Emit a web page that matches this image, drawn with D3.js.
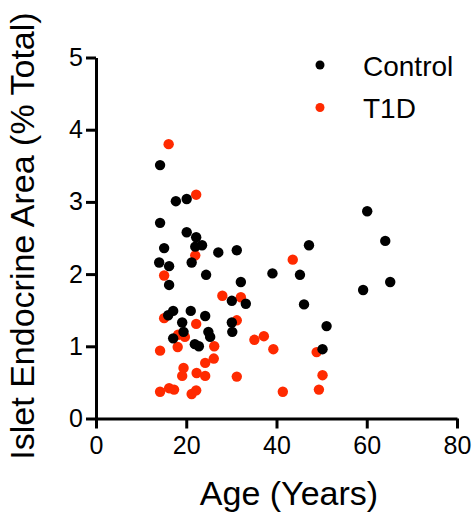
<!DOCTYPE html>
<html>
<head>
<meta charset="utf-8">
<script src="https://cdn.jsdelivr.net/npm/d3@7"></script>
<style>
  html, body { margin: 0; padding: 0; background: #fff; }
  svg { display: block; font-family: "Liberation Sans", Arial, sans-serif; }
</style>
</head>
<body>
<svg id="chart" width="475" height="512"></svg>
<script>
// Data: [age (years), islet endocrine area (% total)]
const controlAge = [14.2,17.7,20.1,14.2,20.1,22.2,22.0,23.5,15.1,27.1,31.2,14.0,16.2,21.2,24.4,16.2,32.1,30.1,33.2,17.1,16.0,21.0,24.2,19.1,30.1,30.2,19.4,17.1,24.9,25.3,21.9,22.8,39.1,47.2,45.2,46.1,51.1,50.2,60.1,64.1,65.2,59.2];
const controlArea = [3.51,3.01,3.04,2.71,2.58,2.51,2.38,2.40,2.36,2.30,2.33,2.16,2.11,2.16,1.99,1.85,1.89,1.63,1.59,1.49,1.43,1.49,1.42,1.33,1.33,1.20,1.20,1.11,1.20,1.13,1.03,1.00,2.01,2.40,1.99,1.58,1.28,0.96,2.87,2.46,1.89,1.78];

const t1dAge = [16.1,22.2,22.0,15.1,28.0,32.1,15.1,22.2,31.2,18.2,19.7,26.2,18.1,14.2,35.1,37.2,39.3,26.1,24.2,19.4,22.3,24.2,19.1,31.2,14.2,16.2,17.3,21.2,22.2,41.4,43.6,48.9,50.2,49.4];
const t1dArea = [3.80,3.10,2.26,1.98,1.70,1.68,1.39,1.31,1.36,1.16,1.13,1.00,0.99,0.94,1.09,1.14,0.96,0.83,0.77,0.70,0.63,0.59,0.59,0.58,0.37,0.42,0.40,0.34,0.39,0.37,2.20,0.92,0.60,0.40];

const xTicks = [0, 20, 40, 60, 80];
const yTicks = [0, 1, 2, 3, 4, 5];
const seriesNames = ["Control", "T1D"];
const seriesColors = ["#000000", "#ff2a00"];

const svg = d3.select("#chart");
const x = d3.scaleLinear().domain([0, 80]).range([96, 457]);
const y = d3.scaleLinear().domain([0, 5]).range([418.5, 57.5]);

// Axes
const xAxis = svg.append("g")
  .attr("transform", `translate(0,${y(0)})`)
  .call(d3.axisBottom(x).tickValues(xTicks).tickFormat(d3.format("d")).tickSize(10).tickPadding(8).tickSizeOuter(0));
const yAxis = svg.append("g")
  .attr("transform", `translate(${x(0)},0)`)
  .call(d3.axisLeft(y).tickValues(yTicks).tickFormat(d3.format("d")).tickSize(10).tickPadding(3).tickSizeOuter(0));

[xAxis, yAxis].forEach(g => {
  g.select(".domain").attr("stroke", "#000").attr("stroke-width", 3);
  g.selectAll(".tick line").attr("stroke", "#000").attr("stroke-width", 3);
  g.selectAll(".tick text").attr("fill", "#000").style("font-size", "25px")
    .style("font-family", "'Liberation Sans', Arial, sans-serif");
});
xAxis.selectAll(".tick text").attr("dy", "0.71em");

// Points (T1D below Control)
const t1d = t1dAge.map((a, i) => ({ a, v: t1dArea[i] }));
const ctrl = controlAge.map((a, i) => ({ a, v: controlArea[i] }));

svg.append("g").selectAll("circle").data(t1d).join("circle")
  .attr("cx", d => x(d.a)).attr("cy", d => y(d.v)).attr("r", 5.2)
  .attr("fill", seriesColors[1]);
svg.append("g").selectAll("circle").data(ctrl).join("circle")
  .attr("cx", d => x(d.a)).attr("cy", d => y(d.v)).attr("r", 5.2)
  .attr("fill", seriesColors[0]);

// Axis titles
svg.append("text")
  .attr("x", 289).attr("y", 505)
  .attr("text-anchor", "middle")
  .style("font-size", "34px")
  .text("Age (Years)");
svg.append("text")
  .attr("transform", "translate(34,236) rotate(-90)")
  .attr("text-anchor", "middle")
  .style("font-size", "34px")
  .text("Islet Endocrine Area (% Total)");

// Legend
const legend = svg.append("g");
seriesNames.forEach((name, i) => {
  const cy = 65 + i * 42.5;
  legend.append("circle").attr("cx", 320).attr("cy", cy).attr("r", 4.5).attr("fill", seriesColors[i]);
  legend.append("text").attr("x", 363).attr("y", cy + 10.5)
    .style("font-size", "28px").text(name);
});
</script>
</body>
</html>
